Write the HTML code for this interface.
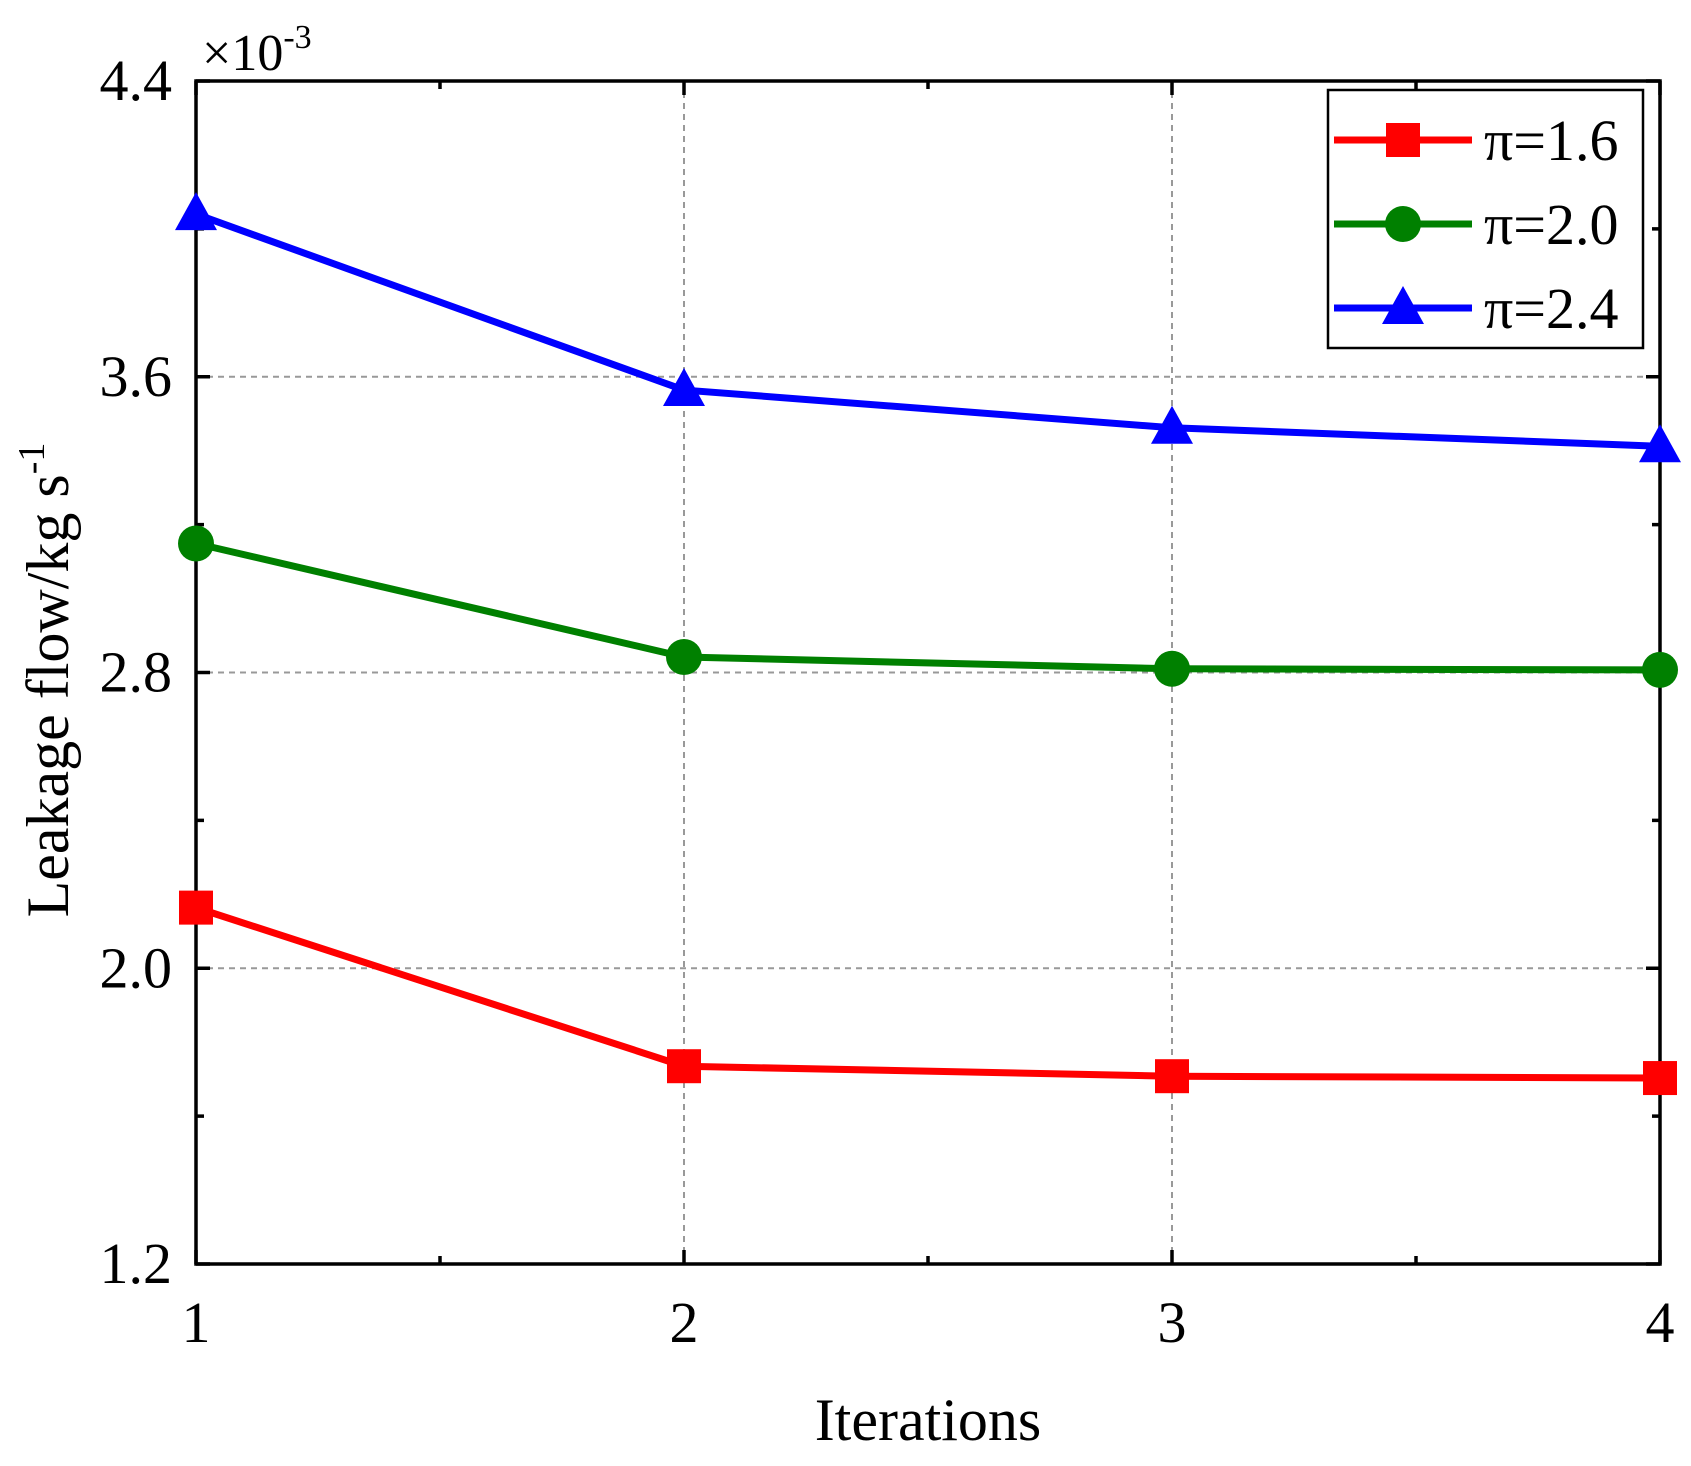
<!DOCTYPE html>
<html><head><meta charset="utf-8"><style>
html,body{margin:0;padding:0;background:#fff;}
svg{display:block;font-family:"Liberation Serif",serif;}
</style></head><body>
<svg id="chart" width="1691" height="1466" viewBox="0 0 1691 1466">
<g id="grid"></g>
<g id="axes"></g>
<g id="series"></g>
<text x="202" y="70" font-size="52">×10<tspan font-size="34" dy="-22">-3</tspan></text>
<text transform="translate(68,680) rotate(-90)" text-anchor="middle" font-size="60">Leakage flow/kg s<tspan font-size="38" dy="-24">-1</tspan></text>
<text x="928" y="1440" text-anchor="middle" font-size="60">Iterations</text>
<g id="legend"></g>
</svg>
<script>
const categories=[1,2,3,4];
const seriesNames=["π=1.6","π=2.0","π=2.4"];
const s16=[2.164,1.735,1.708,1.703];
const s20=[3.149,2.842,2.810,2.807];
const s24=[4.04,3.564,3.462,3.412];
const yTicks=["1.2","2.0","2.8","3.6","4.4"];
const xTicks=["1","2","3","4"];
const L=196,R=1660,T=81,B=1264,yMin=1.2,yMax=4.4;
const xS=v=>L+(v-1)/3*(R-L);
const yS=v=>B-(v-yMin)/(yMax-yMin)*(B-T);
const NS="http://www.w3.org/2000/svg";
function mk(p,tag,a){const e=document.createElementNS(NS,tag);for(const k in a)e.setAttribute(k,a[k]);p.appendChild(e);return e;}
const grid=document.getElementById('grid'),axes=document.getElementById('axes'),ser=document.getElementById('series'),leg=document.getElementById('legend');
yTicks.forEach(t=>{const v=+t,y=yS(v);
 if(v>yMin&&v<yMax){const g=mk(grid,'line',{x1:L,x2:R,y1:y,y2:y,stroke:'#999','stroke-width':2,'stroke-dasharray':'6,5'});
 
 }
 const tx=mk(axes,'text',{x:172,y:y+19,'text-anchor':'end','font-size':58});tx.textContent=t;
 
 
 mk(axes,'line',{x1:L,x2:L+14,y1:y,y2:y,stroke:'#000','stroke-width':3.5});
 mk(axes,'line',{x1:R,x2:R-14,y1:y,y2:y,stroke:'#000','stroke-width':3.5});
 if(v<yMax){const ym=yS(v+0.4);
 mk(axes,'line',{x1:L,x2:L+8,y1:ym,y2:ym,stroke:'#000','stroke-width':3.5});
 mk(axes,'line',{x1:R,x2:R-8,y1:ym,y2:ym,stroke:'#000','stroke-width':3.5});}
});
xTicks.forEach(t=>{const v=+t,x=xS(v);
 if(v>1&&v<4){const g=mk(grid,'line',{x1:x,x2:x,y1:T,y2:B,stroke:'#999','stroke-width':2,'stroke-dasharray':'6,5'});
 
 }
 const tx=mk(axes,'text',{x:x,y:1342,'text-anchor':'middle','font-size':58});tx.textContent=t;
 
 
 mk(axes,'line',{x1:x,x2:x,y1:B,y2:B-14,stroke:'#000','stroke-width':3.5});
 mk(axes,'line',{x1:x,x2:x,y1:T,y2:T+14,stroke:'#000','stroke-width':3.5});
 if(v<4){const xm=xS(v+0.5);
 mk(axes,'line',{x1:xm,x2:xm,y1:B,y2:B-8,stroke:'#000','stroke-width':3.5});
 mk(axes,'line',{x1:xm,x2:xm,y1:T,y2:T+8,stroke:'#000','stroke-width':3.5});}
});
const frame=mk(axes,'rect',{x:L,y:T,width:R-L,height:B-T,fill:'none',stroke:'#000','stroke-width':3.5});


function marker(p,type,x,y,c){
 if(type==='sq')return mk(p,'rect',{x:x-17,y:y-17,width:34,height:34,fill:c});
 if(type==='ci')return mk(p,'circle',{cx:x,cy:y,r:18,fill:c});
 return mk(p,'polygon',{points:`${x},${y-22} ${x+21},${y+16} ${x-21},${y+16}`,fill:c});
}
const defs=[[s16,'#ff0000','sq'],[s20,'#008000','ci'],[s24,'#0000ff','tr']];
defs.forEach((d,i)=>{const [vals,c,m]=d;
 const pts=vals.map((v,j)=>xS(categories[j])+','+yS(v)).join(' ');
 const pl=mk(ser,'polyline',{points:pts,fill:'none',stroke:c,'stroke-width':7});
 
 
 vals.forEach((v,j)=>{const mm=marker(ser,m,xS(categories[j]),yS(v),c);
 
 });
 const ly=140+i*84;
 mk(leg,'line',{x1:1334,x2:1472,y1:ly,y2:ly,stroke:c,'stroke-width':7});
 marker(leg,m,1403,ly,c);
 const lt=mk(leg,'text',{x:1484,y:ly+20,'font-size':58});lt.textContent=seriesNames[i];
 
 
});
const lb=mk(leg,'rect',{x:1328,y:90,width:315,height:258,fill:'none',stroke:'#000','stroke-width':2.5});


</script>
</body></html>
